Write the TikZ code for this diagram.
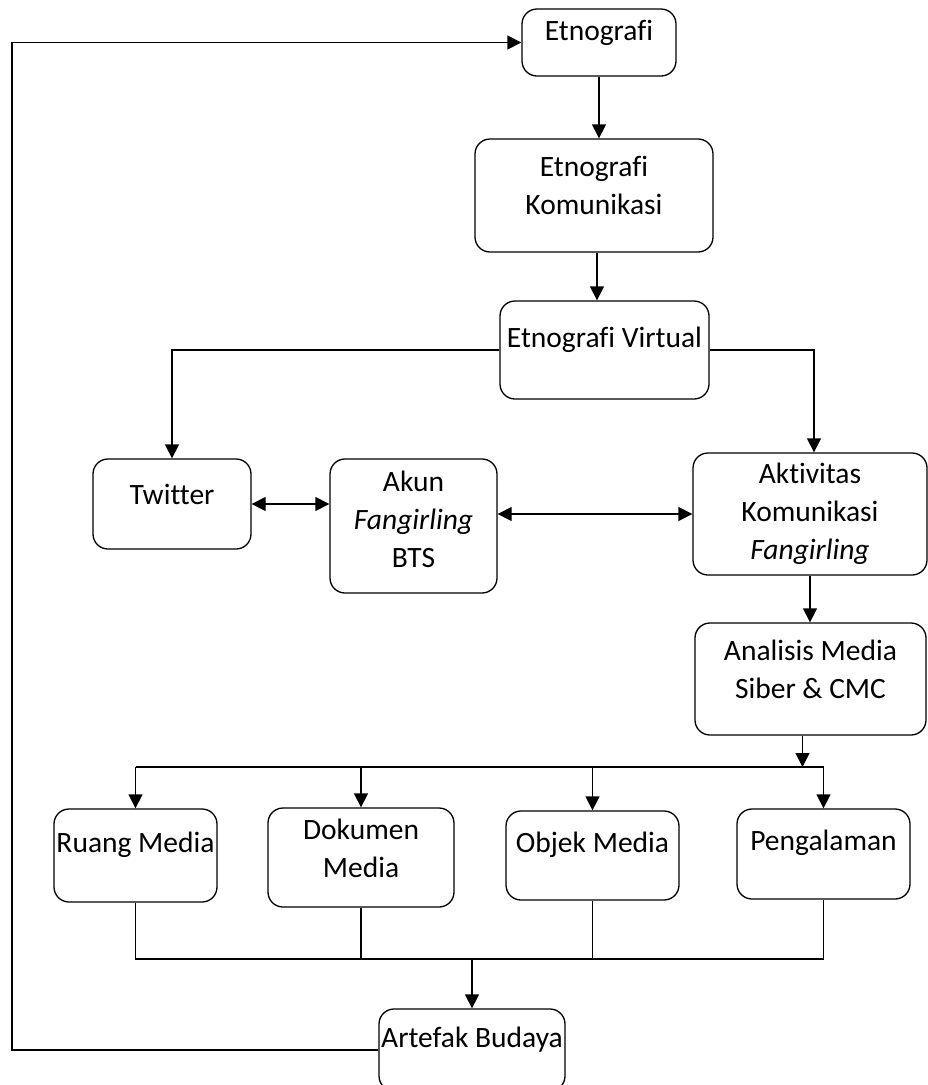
\documentclass[tikz,border=0pt]{standalone}
\usepackage{fontspec}
\setmainfont[Ligatures=NoCommon]{Carlito}
\usetikzlibrary{arrows.meta}

\tikzset{
    box/.style={draw, line width=1.3pt, rounded corners=15pt, inner sep=0pt},
    txt/.style={align=center, inner sep=0pt, font=\fontsize{29.5}{38}\selectfont},
    ln/.style={line width=1.3pt},
    arr/.style={line width=1.3pt, -{Triangle[length=14pt,width=14pt]}},
    darr/.style={line width=1.3pt, {Triangle[length=14pt,width=14pt]}-{Triangle[length=14pt,width=14pt]}}
}

\begin{document}
\begin{tikzpicture}[x=1pt,y=-1pt]
    \useasboundingbox (0,0) rectangle (928,1085);

    % boxes
    \node[box, minimum width=154pt, minimum height=67pt] (etno) at (599,42.5) {};
    \node[box, minimum width=238pt, minimum height=113pt] (ekom) at (594,195.5) {};
    \node[box, minimum width=209pt, minimum height=98pt] (evir) at (604.5,350) {};
    \node[box, minimum width=158pt, minimum height=90pt] (twit) at (172,504) {};
    \node[box, minimum width=167pt, minimum height=134pt] (akun) at (413.5,526) {};
    \node[box, minimum width=234pt, minimum height=122pt] (aktv) at (810,514) {};
    \node[box, minimum width=231pt, minimum height=112pt] (anls) at (810.5,679) {};
    \node[box, minimum width=163pt, minimum height=93pt] (ruang) at (135.5,855.5) {};
    \node[box, minimum width=186pt, minimum height=99pt] (doku) at (361,857.5) {};
    \node[box, minimum width=173pt, minimum height=89pt] (objek) at (592.5,855.5) {};
    \node[box, minimum width=173pt, minimum height=90pt] (peng) at (823.5,854) {};
    \node[box, minimum width=186pt, minimum height=82pt] (arte) at (472,1050) {};

    % texts
    \node[txt] (etno-t) at (599,33) {Etnografi};
    \node[txt] (ekom-t) at (594,185) {Etnografi\\Komunikasi};
    \node[txt] (evir-t) at (604.5,340) {Etnografi Virtual};
    \node[txt] (twit-t) at (172,494) {Twitter};
    \node[txt] (akun-t) at (413.5,519.5) {Akun\\\textit{Fangirling}\\BTS};
    \node[txt] (aktv-t) at (810,513.5) {Aktivitas\\Komunikasi\\\textit{Fangirling}};
    \node[txt] (anls-t) at (810.5,669) {Analisis Media\\Siber \& CMC};
    \node[txt] (ruang-t) at (135.5,845) {Ruang Media};
    \node[txt] (doku-t) at (361,848) {Dokumen\\Media};
    \node[txt] (objek-t) at (592.5,845) {Objek Media};
    \node[txt] (peng-t) at (823.5,843) {Pengalaman};
    \node[txt] (arte-t) at (472,1040) {Artefak Budaya};

    \coordinate (topbus) at (0,767);
    \coordinate (lowbus) at (0,959);
    \coordinate (loop) at (12,0);

    % connectors
    \draw[arr] (etno.south) -- (etno.south |- ekom.north);
    \draw[arr] ([xshift=3pt]ekom.south) -- ([xshift=3pt]ekom.south |- evir.north);
    \draw[arr] (evir.west) -| (twit.north);
    \draw[arr] (evir.east) -| ([xshift=4pt]aktv.north);
    \draw[darr] (twit.east) -- (twit.east -| akun.west);
    \draw[darr] (akun.east |- aktv.west) -- (aktv.west);
    \draw[arr] (aktv.south) -- (aktv.south |- anls.north);
    \draw[arr] ([xshift=-8pt]anls.south) -- ([xshift=-8pt]anls.south |- topbus);

    \draw[ln] (ruang.north |- topbus) -- (peng.north |- topbus);
    \draw[arr] (ruang.north |- topbus) -- (ruang.north);
    \draw[arr] (doku.north |- topbus) -- (doku.north);
    \draw[arr] (objek.north |- topbus) -- (objek.north);
    \draw[arr] (peng.north |- topbus) -- (peng.north);

    \draw[ln] (ruang.south) -- (ruang.south |- lowbus) -- (peng.south |- lowbus) -- (peng.south);
    \draw[ln] (doku.south) -- (doku.south |- lowbus);
    \draw[ln] (objek.south) -- (objek.south |- lowbus);
    \draw[arr] (arte.north |- lowbus) -- (arte.north);

    \draw[arr] (arte.west) -- (arte.west -| loop) -- (etno.west -| loop) -- (etno.west);
\end{tikzpicture}
\end{document}
